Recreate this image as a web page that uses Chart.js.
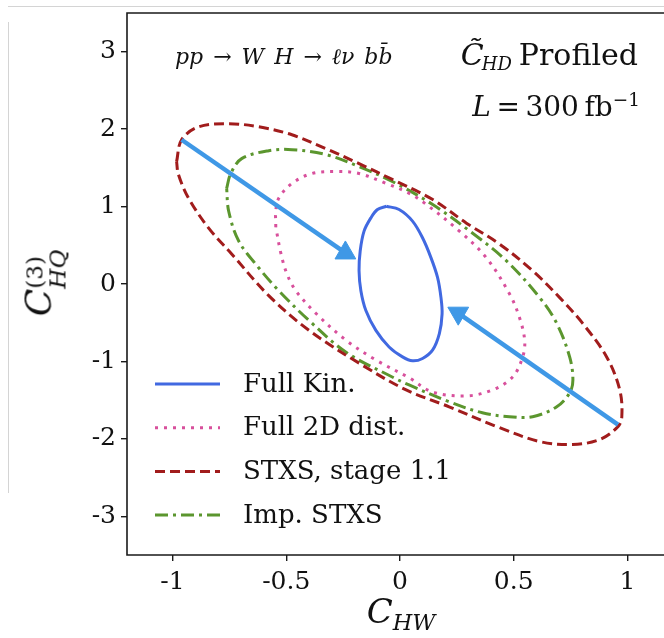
<!DOCTYPE html>
<html lang="en">
<head>
<meta charset="UTF-8" />
<title>C_HW vs C_HQ(3) contours</title>
<script src="https://cdn.jsdelivr.net/npm/chart.js"></script>
<style>
  html, body { margin: 0; padding: 0; background: #fff; width: 664px; height: 638px; overflow: hidden; }
  #plot { position: absolute; left: 0; top: 0; width: 700px; height: 638px; }
  .tex { position: absolute; font-family: "DejaVu Serif", serif; color: #111; white-space: nowrap; line-height: 1; }
  .tex i { font-style: italic; }
  .sb { font-size: 0.66em; position: relative; top: 0.3em; }
  .sp { font-size: 0.66em; position: relative; top: -0.55em; }
  .edge { position: absolute; background: #d4d4d4; }
</style>
</head>
<body>
  <!-- faint page edges from the original screenshot -->
  <div class="edge" style="left:8px; top:6px; width:656px; height:1px;"></div>
  <div class="edge" style="left:8px; top:22px; width:1px; height:471px;"></div>

  <!-- the figure is cropped on the right: canvas runs past the window -->
  <canvas id="plot" width="700" height="638"></canvas>

  <!-- math labels -->
  <div class="tex" style="font-size:34px; left:401px; top:594px; transform:translateX(-50%);">
    <i>C</i><span class="sb"><i>HW</i></span>
  </div>
  <div class="tex" style="font-size:36px; left:45px; top:283px; transform:translate(-50%,-50%) rotate(-90deg);">
    <i>C</i><span style="display:inline-flex; flex-direction:column; font-size:0.64em; line-height:1.0; vertical-align:8px;"><span>(3)</span><span><i>HQ</i></span></span>
  </div>
  <div class="tex" style="font-size:22px; left:175px; top:46px; word-spacing:3px;">
    <i>pp</i> → <i>W H</i> → <i>ℓν</i> <i>bb̄</i>
  </div>
  <div class="tex" style="font-size:30px; right:26px; top:40px;">
    <i>C̃</i><span class="sb" style="font-size:0.6em; margin-left:-2px; margin-right:7px;"><i>HD</i></span>Profiled
  </div>
  <div class="tex" style="font-size:28px; right:24px; top:93px;">
    <i>L</i>&#8201;=&#8201;300&#8201;fb<span class="sp">−1</span>
  </div>

<script>
// axis ticks and ranges
const xTicks = [-1, -0.5, 0, 0.5, 1];
const yTicks = [-3, -2, -1, 0, 1, 2, 3];
const xRange = [-1.2, 1.2];
const yRange = [-3.5, 3.5];

// contour read-offs (C_HW, C_HQ^(3)), going round each curve
const fullKinX = [-0.060, -0.004, 0.055, 0.099, 0.136, 0.165, 0.180, 0.185, 0.173, 0.143, 0.099, 0.055, 0.011, -0.048, -0.106, -0.150, -0.172, -0.180, -0.175, -0.158, -0.128, -0.099];
const fullKinY = [1.004, 0.962, 0.812, 0.597, 0.341, 0.085, -0.172, -0.385, -0.641, -0.855, -0.962, -0.992, -0.941, -0.813, -0.599, -0.342, -0.086, 0.171, 0.427, 0.683, 0.854, 0.962];

const full2dX = [-0.546, -0.546, -0.533, -0.475, -0.387, -0.281, -0.180, -0.061, 0.041, 0.115, 0.261, 0.380, 0.481, 0.525, 0.548, 0.539, 0.495, 0.407, 0.292, 0.142, 0.041, -0.105, -0.237, -0.369, -0.458, -0.497, -0.523];
const full2dY = [0.735, 0.940, 1.106, 1.299, 1.427, 1.453, 1.427, 1.299, 1.170, 1.029, 0.683, 0.337, -0.125, -0.432, -0.727, -0.945, -1.201, -1.368, -1.445, -1.394, -1.212, -0.983, -0.727, -0.381, -0.086, 0.132, 0.388];

const stxsX = [-0.982, -0.960, -0.885, -0.753, -0.621, -0.475, -0.325, -0.180, -0.034, 0.142, 0.292, 0.437, 0.583, 0.702, 0.803, 0.909, 0.966, 0.975, 0.958, 0.878, 0.759, 0.614, 0.437, 0.216, 0.027, -0.180, -0.400, -0.577, -0.740, -0.841, -0.929, -0.974];
const stxsY = [1.581, 1.863, 2.030, 2.070, 2.030, 1.927, 1.747, 1.555, 1.350, 1.094, 0.786, 0.517, 0.171, -0.176, -0.509, -0.945, -1.368, -1.714, -1.842, -2.009, -2.073, -2.035, -1.855, -1.586, -1.368, -1.022, -0.599, -0.150, 0.388, 0.722, 1.106, 1.414];

const impStxsX = [-0.762, -0.744, -0.696, -0.577, -0.475, -0.325, -0.180, -0.034, 0.142, 0.318, 0.468, 0.614, 0.689, 0.746, 0.760, 0.746, 0.689, 0.583, 0.481, 0.362, 0.217, 0.040, -0.034, -0.237, -0.400, -0.533, -0.621, -0.709, -0.753];
const impStxsY = [1.235, 1.427, 1.619, 1.722, 1.735, 1.671, 1.517, 1.324, 1.029, 0.658, 0.299, -0.176, -0.509, -0.945, -1.240, -1.406, -1.586, -1.714, -1.714, -1.663, -1.522, -1.304, -1.201, -0.881, -0.471, -0.086, 0.209, 0.555, 0.940];

// the two light-blue arrows (start, head)
const arrowUpperX = [-0.960, -0.240];
const arrowUpperY = [1.863, 0.401];
const arrowLowerX = [0.958, 0.256];
const arrowLowerY = [-1.817, -0.377];

function toPoints(xs, ys) {
  return xs.map((x, i) => ({ x: x, y: ys[i] }));
}
function closed(xs, ys) {
  const pts = toPoints(xs, ys);
  pts.push(pts[0]);
  return pts;
}

const serif = '"DejaVu Serif", serif';

// axes spines: left, top and bottom (right one is outside the crop)
const framePlugin = {
  id: 'frame',
  afterDraw(chart) {
    const ctx = chart.ctx;
    const xs = chart.scales.x, ys = chart.scales.y;
    ctx.save();
    ctx.strokeStyle = '#1a1a1a';
    ctx.lineWidth = 1.6;
    ctx.beginPath();
    ctx.moveTo(xs.right, ys.top);
    ctx.lineTo(xs.left, ys.top);
    ctx.lineTo(xs.left, ys.bottom);
    ctx.lineTo(xs.right, ys.bottom);
    ctx.stroke();
    ctx.restore();
  }
};

// legend sits inside the axes, bottom left
const innerLegend = {
  id: 'innerLegend',
  afterDatasetsDraw(chart) {
    const ctx = chart.ctx;
    const left = chart.scales.x.left, top = chart.scales.y.top;
    const rows = chart.data.datasets.filter(ds => ds.inLegend);
    ctx.save();
    ctx.font = '26px ' + serif;
    ctx.textBaseline = 'middle';
    rows.forEach((ds, i) => {
      const y = top + 371 + i * 43.7;
      ctx.strokeStyle = ds.borderColor;
      ctx.lineWidth = ds.borderWidth;
      ctx.lineCap = 'butt';
      ctx.setLineDash(ds.borderDash || []);
      ctx.beginPath();
      ctx.moveTo(left + 28, y);
      ctx.lineTo(left + 93, y);
      ctx.stroke();
      ctx.setLineDash([]);
      ctx.fillStyle = '#111';
      ctx.fillText(ds.label, left + 116, y + 1);
    });
    ctx.restore();
  }
};

const contour = {
  showLine: true,
  pointRadius: 0,
  pointHoverRadius: 0,
  borderWidth: 3,
  tension: 0.35,
  fill: false,
  inLegend: true
};

const arrow = {
  showLine: true,
  borderColor: '#3f98e6',
  backgroundColor: '#3f98e6',
  borderWidth: 4.5,
  pointStyle: 'triangle',
  pointRadius: [0, 12],
  pointBorderWidth: 1,
  order: -1
};

new Chart(document.getElementById('plot'), {
  type: 'scatter',
  data: {
    datasets: [
      Object.assign({}, contour, { label: 'Full Kin.', data: closed(fullKinX, fullKinY), borderColor: '#4169e1' }),
      Object.assign({}, contour, { label: 'Full 2D dist.', data: closed(full2dX, full2dY), borderColor: '#d8509c', borderDash: [3, 6] }),
      Object.assign({}, contour, { label: 'STXS, stage 1.1', data: closed(stxsX, stxsY), borderColor: '#a11c1c', borderDash: [10, 5] }),
      Object.assign({}, contour, { label: 'Imp. STXS', data: closed(impStxsX, impStxsY), borderColor: '#5b962e', borderDash: [13, 5, 3, 5] }),
      Object.assign({}, arrow, { label: 'arrow 1', data: toPoints(arrowUpperX, arrowUpperY), pointRotation: 0 }),
      Object.assign({}, arrow, { label: 'arrow 2', data: toPoints(arrowLowerX, arrowLowerY), pointRotation: 180 })
    ]
  },
  options: {
    responsive: false,
    animation: false,
    devicePixelRatio: 1,
    layout: { padding: { top: 10, right: 27, left: 0, bottom: 0 } },
    plugins: {
      legend: { display: false },
      tooltip: { enabled: false }
    },
    scales: {
      x: {
        type: 'linear',
        min: xRange[0],
        max: xRange[1],
        afterBuildTicks: s => { s.ticks = xTicks.map(v => ({ value: v })); },
        afterFit: s => { s.height = 83; s.paddingLeft = 0; s.paddingRight = 0; },
        ticks: { color: '#111', font: { family: serif, size: 25 }, padding: 6, callback: v => String(v), maxRotation: 0 },
        grid: { drawOnChartArea: false, drawTicks: true, tickLength: 6, color: '#1a1a1a', lineWidth: 1.4 },
        border: { display: false }
      },
      y: {
        type: 'linear',
        min: yRange[0],
        max: yRange[1],
        afterBuildTicks: s => { s.ticks = yTicks.map(v => ({ value: v })); },
        afterFit: s => { s.width = 127; s.paddingTop = 0; s.paddingBottom = 0; },
        ticks: { color: '#111', font: { family: serif, size: 25 }, padding: 5, callback: v => String(v) },
        grid: { drawOnChartArea: false, drawTicks: true, tickLength: 6, color: '#1a1a1a', lineWidth: 1.4 },
        border: { display: false }
      }
    }
  },
  plugins: [framePlugin, innerLegend]
});
</script>
</body>
</html>
